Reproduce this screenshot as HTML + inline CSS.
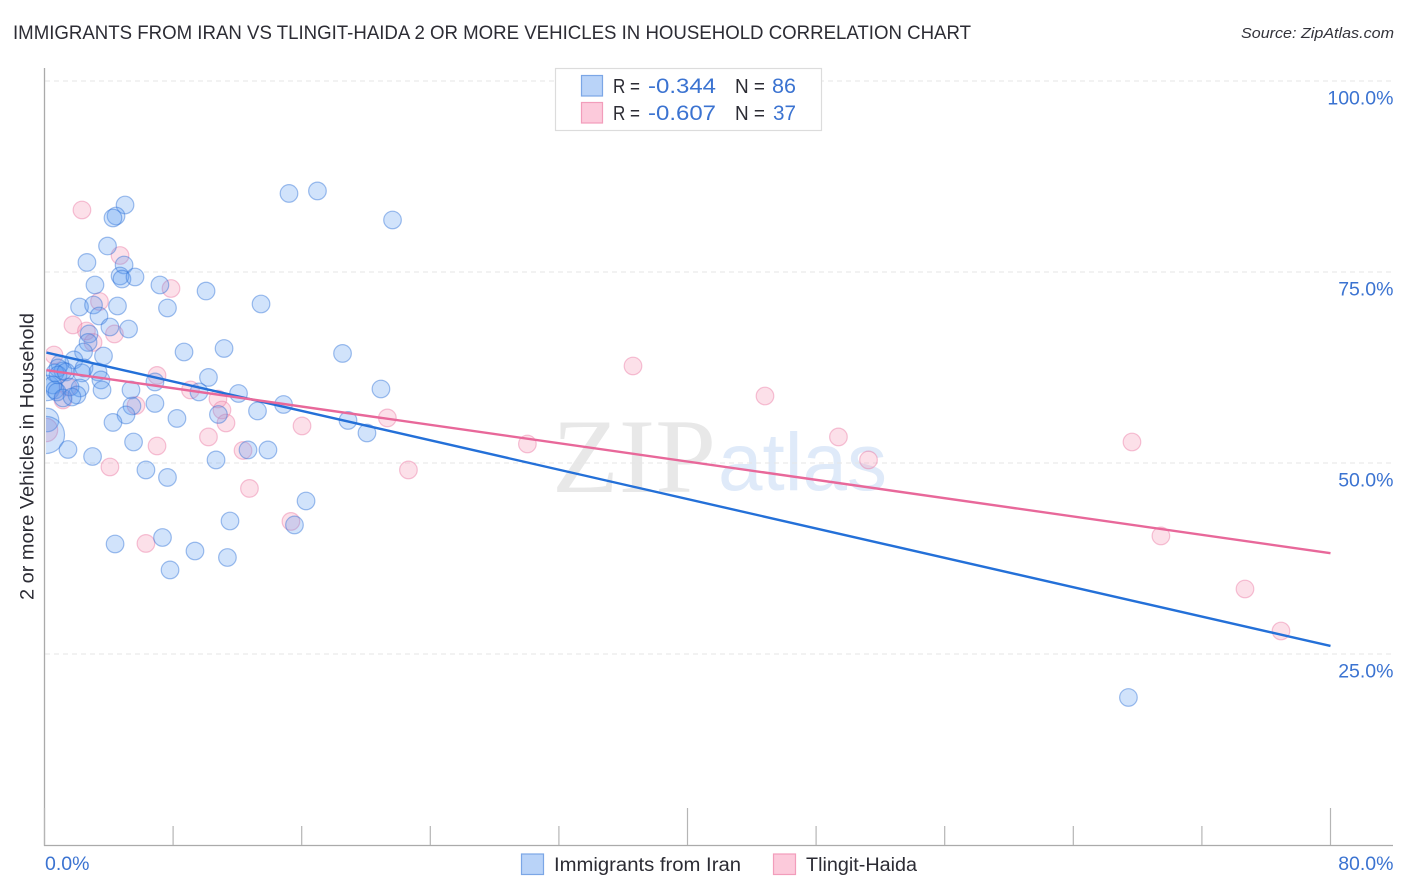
<!DOCTYPE html>
<html lang="en">
<head>
<meta charset="utf-8">
<title>Immigrants from Iran vs Tlingit-Haida correlation chart</title>
<style>
html,body{margin:0;padding:0;background:#fff;}
svg{display:block;}
text{font-family:"Liberation Sans",sans-serif;}
</style>
</head>
<body>
<svg id="chart" xmlns="http://www.w3.org/2000/svg" width="1406" height="892" viewBox="0 0 1406 892">
  <defs>
    <clipPath id="plot-clip"><rect x="46" y="60" width="1350" height="785"></rect></clipPath>
  </defs>
  <rect x="0" y="0" width="1406" height="892" fill="#ffffff"></rect>

  <text x="13" y="39" font-size="19.5" fill="#2c2c34" textLength="958" lengthAdjust="spacingAndGlyphs">IMMIGRANTS FROM IRAN VS TLINGIT-HAIDA 2 OR MORE VEHICLES IN HOUSEHOLD CORRELATION CHART</text>
  <text x="1241" y="38" font-size="15" font-style="italic" fill="#33333b" textLength="153" lengthAdjust="spacingAndGlyphs">Source: ZipAtlas.com</text>

  <g>
    <text x="552" y="492" font-size="106" fill="#e8e8e8" textLength="164" lengthAdjust="spacingAndGlyphs" style="font-family:'Liberation Serif',serif">ZIP</text>
    <text x="718" y="490" font-size="82" fill="#dfeaf9" textLength="169" lengthAdjust="spacingAndGlyphs">atlas</text>
  </g>

  <g id="grid"></g>
  <g id="pink-points" clip-path="url(#plot-clip)"></g>
  <g id="blue-points" clip-path="url(#plot-clip)"></g>
  <g id="trend-lines"></g>
  <g id="axes"></g>
  <g id="tick-labels"></g>

  <text transform="translate(33.5,600) rotate(-90)" x="0" y="0" font-size="19" fill="#2c2c34" textLength="287" lengthAdjust="spacingAndGlyphs">2 or more Vehicles in Household</text>

  <g>
    <rect x="555.5" y="68.5" width="266" height="62" fill="#ffffff" stroke="#dcdcdc" stroke-width="1.2"></rect>
    <rect x="581.5" y="75.5" width="21" height="20.5" fill="#b9d3f8" stroke="#7ba6e6" stroke-width="1.2"></rect>
    <rect x="581.5" y="102.5" width="21" height="20.5" fill="#fccadb" stroke="#f29dbb" stroke-width="1.2"></rect>
    <text x="613" y="93" font-size="20" fill="#2c2c34" textLength="27" lengthAdjust="spacingAndGlyphs">R =</text>
    <text x="648" y="93" font-size="21" fill="#3b73d1" textLength="68" lengthAdjust="spacingAndGlyphs">-0.344</text>
    <text x="735" y="93" font-size="20" fill="#2c2c34" textLength="30" lengthAdjust="spacingAndGlyphs">N =</text>
    <text x="772" y="93" font-size="21" fill="#3b73d1" textLength="24" lengthAdjust="spacingAndGlyphs">86</text>
    <text x="613" y="120" font-size="20" fill="#2c2c34" textLength="27" lengthAdjust="spacingAndGlyphs">R =</text>
    <text x="648" y="120" font-size="21" fill="#3b73d1" textLength="68" lengthAdjust="spacingAndGlyphs">-0.607</text>
    <text x="735" y="120" font-size="20" fill="#2c2c34" textLength="30" lengthAdjust="spacingAndGlyphs">N =</text>
    <text x="773" y="120" font-size="21" fill="#3b73d1" textLength="23" lengthAdjust="spacingAndGlyphs">37</text>
  </g>

  <g>
    <rect x="521.5" y="854" width="22" height="20.5" fill="#b9d3f8" stroke="#7ba6e6" stroke-width="1.2"></rect>
    <text x="554" y="871" font-size="19" fill="#2c2c34" textLength="187" lengthAdjust="spacingAndGlyphs">Immigrants from Iran</text>
    <rect x="773.5" y="854" width="22" height="20.5" fill="#fccadb" stroke="#f29dbb" stroke-width="1.2"></rect>
    <text x="806" y="871" font-size="19" fill="#2c2c34" textLength="111" lengthAdjust="spacingAndGlyphs">Tlingit-Haida</text>
  </g>
</svg>
<script>
var blueX = [5.01,4.45,4.26,3.92,2.64,4.95,4.70,4.82,5.63,3.14,7.18,10.05,2.18,3.05,4.54,7.65,13.47,3.39,4.07,5.23,2.77,2.71,2.43,3.67,8.68,11.17,18.54,
  1.83,0.96,0.84,1.15,0.65,0.84,1.34,2.33,2.46,3.33,3.51,6.87,10.20,20.93,5.38,3.58,9.61,12.07,2.21,1.59,0.53,0.65,0.78,2.02,1.15,1.71,6.87,14.87,
  5.44,13.25,5.07,10.82,8.24,4.26,18.88,20.06,5.54,12.66,13.90,1.46,2.99,10.67,6.31,7.65,16.27,11.54,15.55,7.34,4.39,9.36,11.38,7.81,15.21,16.98,21.65,67.43];
var blueY = [83.77,82.33,82.07,78.40,76.25,75.92,74.48,74.08,74.35,73.30,73.30,72.51,70.42,70.68,70.55,70.29,70.81,69.24,67.80,67.54,66.89,65.78,64.53,64.01,64.53,64.99,64.34,
  63.49,62.96,62.44,62.05,61.79,61.52,61.92,61.79,62.44,61.92,60.87,60.61,61.20,59.69,59.56,59.56,59.30,59.10,59.82,59.95,60.21,59.56,59.30,58.91,58.51,58.64,57.79,57.66,
  57.46,56.81,56.29,56.35,55.83,55.31,55.57,53.93,52.75,51.71,51.71,51.77,50.85,50.40,49.09,48.11,45.03,42.41,41.89,40.25,39.40,38.48,37.63,36.00,85.28,85.61,81.81,19.31];
var blueLargeX = [0.16,0.16,0.09];
var blueLargeY = [59.82,55.63,53.67];
var blueLargeWeight = [2.09,1.78,4.46];

var pinkX = [2.33,4.70,7.87,3.42,1.77,2.61,3.02,4.35,0.59,7.00,36.61,44.82,9.08,1.46,1.15,5.69,10.79,11.04,11.29,10.20,16.02,21.33,7.00,4.07,12.35,12.75,22.64,30.04,49.39,51.26,67.65,69.45,74.68,76.92,6.31,15.33];
var pinkY = [83.12,77.16,72.84,71.14,68.07,67.28,65.78,66.89,64.14,61.46,62.70,58.77,59.56,59.95,58.25,57.53,58.38,56.94,55.24,53.41,54.85,55.90,52.23,49.48,51.64,46.67,49.09,52.49,53.41,50.40,52.75,40.45,33.51,28.01,39.47,42.35];
var pinkLargeX = [0.09];
var pinkLargeY = [54.32];
var pinkLargeWeight = [1.78];

var trendXRange = [0.12,80];
var blueTrendY = [64.45,26.05];
var pinkTrendY = [62.15,38.2];

var xTickValues = [0,8,16,24,32,40,48,56,64,72,80];
var xMajorTicks = [0,40,80];
var yGridValues = [25,50,75,100];
var yTickLabels = ["25.0%","50.0%","75.0%","100.0%"];
var xEndLabels = ["0.0%","80.0%"];

var NS = "http://www.w3.org/2000/svg";
function xScale(v){ return 44.5 + v * 16.075; }
function yScale(v){ return 845 - v * 7.64; }
function rScale(w){ return 8.8 * Math.sqrt(w); }
function mk(tag, attrs, parent){
  var el = document.createElementNS(NS, tag);
  for (var k in attrs) el.setAttribute(k, attrs[k]);
  parent.appendChild(el);
  return el;
}

var grid = document.getElementById("grid");
yGridValues.forEach(function(v){
  var l = mk("line", {x1:45, x2:1393, y1:yScale(v), y2:yScale(v), stroke:"#e6e6e6", "stroke-width":1, "stroke-dasharray":"5 4"}, grid);
  
  
});

function drawPoints(parent, xs, ys, weights, fill, stroke, markName){
  xs.forEach(function(x, i){
    var c = mk("circle", {cx:xScale(x), cy:yScale(ys[i]), r:rScale(weights ? weights[i] : 1), fill:fill, "fill-opacity":0.28, stroke:stroke, "stroke-opacity":0.45, "stroke-width":1.2}, parent);
    
    
  });
}
var pinkGroup = document.getElementById("pink-points");
var blueGroup = document.getElementById("blue-points");
drawPoints(pinkGroup, pinkLargeX, pinkLargeY, pinkLargeWeight, "#f48fb1", "#ec7ba3", "tlingit-point");
drawPoints(pinkGroup, pinkX, pinkY, null, "#f48fb1", "#ec7ba3", "tlingit-point");
drawPoints(blueGroup, blueLargeX, blueLargeY, blueLargeWeight, "#5b9bf0", "#2f72d8", "iran-point");
drawPoints(blueGroup, blueX, blueY, null, "#5b9bf0", "#2f72d8", "iran-point");

var trends = document.getElementById("trend-lines");
var blueLine = mk("line", {x1:xScale(trendXRange[0]), x2:xScale(trendXRange[1]), y1:yScale(blueTrendY[0]), y2:yScale(blueTrendY[1]), stroke:"#2470d8", "stroke-width":2.4}, trends);


var pinkLine = mk("line", {x1:xScale(trendXRange[0]), x2:xScale(trendXRange[1]), y1:yScale(pinkTrendY[0]), y2:yScale(pinkTrendY[1]), stroke:"#e8689a", "stroke-width":2.4}, trends);



var axes = document.getElementById("axes");
var yAxis = mk("line", {x1:44.5, x2:44.5, y1:68, y2:846, stroke:"#aaaaaa", "stroke-width":1.3}, axes);


var xAxis = mk("line", {x1:44, x2:1393, y1:845.5, y2:845.5, stroke:"#aaaaaa", "stroke-width":1.3}, axes);


xTickValues.forEach(function(v){
  var major = xMajorTicks.indexOf(v) >= 0;
  var t = mk("line", {x1:xScale(v), x2:xScale(v), y1:major ? 808 : 826, y2:845, stroke:"#b5b5b5", "stroke-width":1.2}, axes);
  
  
});

var labels = document.getElementById("tick-labels");
yGridValues.forEach(function(v, i){
  var t = mk("text", {x:1393.5, y:yScale(v)+23.5, "font-size":19.5, fill:"#3b73d1", "text-anchor":"end"}, labels);
  t.textContent = yTickLabels[i];
  
  
});
var x0 = mk("text", {x:45, y:870, "font-size":19.5, fill:"#3b73d1"}, labels);
x0.textContent = xEndLabels[0];


var x1 = mk("text", {x:1393.5, y:870, "font-size":19.5, fill:"#3b73d1", "text-anchor":"end"}, labels);
x1.textContent = xEndLabels[1];


</script>
</body>
</html>
